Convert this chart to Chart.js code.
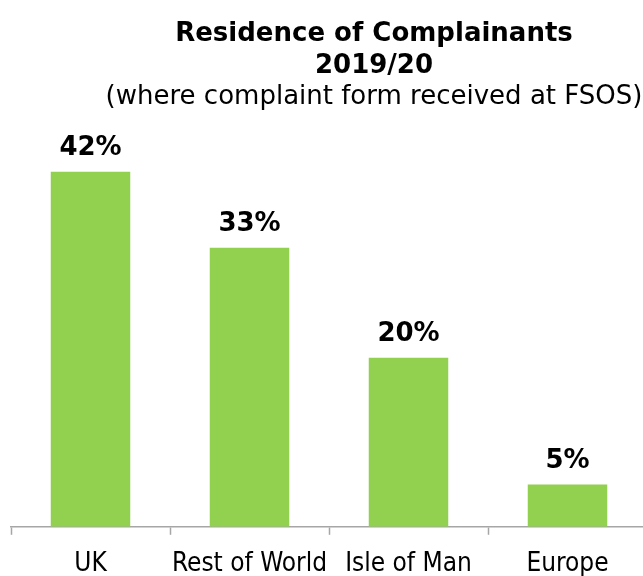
<!DOCTYPE html>
<html>
<head>
<meta charset="utf-8">
<script src="https://cdn.jsdelivr.net/npm/chart.js@4"></script>
<style>
  body { margin: 0; overflow: hidden; background: #fff; }
  canvas { display: block; }
</style>
</head>
<body>
<canvas id="myChart" width="737" height="594"></canvas>
<script>
var categorias = ['UK', 'Rest of World', 'Isle of Man', 'Europe'];
var porcentajes = [42, 33, 20, 5];
var titulo = ['Residence of Complainants', '2019/20'];
var subtitulo = '(where complaint form received at FSOS)';

var fuente = "'DejaVu Sans', sans-serif";
var fuenteEje = "'DejaVu Sans Condensed', 'DejaVu Sans', sans-serif";

// etiquetas de porcentaje sobre cada barra
var etiquetas = {
    id: 'etiquetas',
    afterDatasetsDraw: function (chart) {
        let c = chart.ctx;
        let meta = chart.getDatasetMeta(0);
        c.save();
        c.font = 'bold 26px ' + fuente;
        c.fillStyle = '#000';
        c.textAlign = 'center';
        c.textBaseline = 'alphabetic';
        meta.data.forEach(function (bar, i) {
            c.fillText(porcentajes[i] + '%', bar.x, bar.y - 17);
        });
        c.restore();
    }
};

var ctx = document.getElementById('myChart').getContext('2d');
new Chart(ctx, {
    type: 'bar',
    data: {
        labels: categorias,
        datasets: [{
            data: porcentajes,
            backgroundColor: '#92D050',
            barPercentage: 0.5,
            categoryPercentage: 1
        }]
    },
    options: {
        responsive: false,
        animation: false,
        layout: { padding: { left: 11, right: 0, top: 0, bottom: 0 } },
        plugins: {
            legend: { display: false },
            tooltip: { enabled: false },
            title: {
                display: true,
                text: titulo,
                color: '#000',
                font: { family: fuente, size: 26, weight: 'bold', lineHeight: 1.2 },
                padding: { top: 19, bottom: 0 }
            },
            subtitle: {
                display: true,
                text: subtitulo,
                color: '#000',
                font: { family: fuente, size: 26, lineHeight: 1.2 },
                padding: { top: 0, bottom: 10 }
            }
        },
        scales: {
            x: {
                grid: { display: true, drawOnChartArea: false, tickLength: 8, tickWidth: 1.5, tickColor: '#a6a6a6', color: '#a6a6a6', offset: true },
                border: { display: true, color: '#a6a6a6', width: 1.5 },
                ticks: { color: '#000', font: { family: fuenteEje, size: 26 }, padding: 14, maxRotation: 0, autoSkip: false }
            },
            y: {
                position: 'right',
                min: 0,
                max: 47.8,
                grid: { display: false },
                border: { display: false },
                ticks: { display: false },
                afterFit: function (eje) { eje.width = 90; }
            }
        }
    },
    plugins: [etiquetas]
});
</script>
</body>
</html>
